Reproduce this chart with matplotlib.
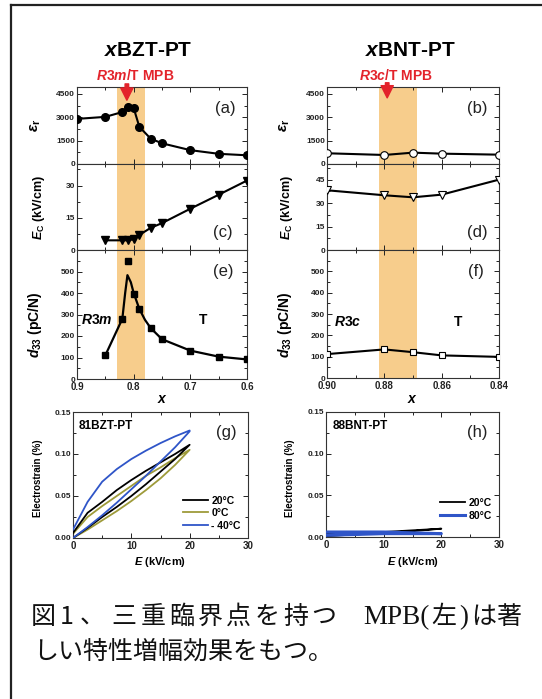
import matplotlib
matplotlib.use('Agg')
import matplotlib.pyplot as plt
from matplotlib.lines import Line2D
from matplotlib.ticker import FixedLocator, FormatStrFormatter

plt.rcParams['font.family'] = ['Liberation Sans', 'DejaVu Sans']
plt.rcParams['font.weight'] = 'bold'
plt.rcParams['mathtext.fontset'] = 'custom'
plt.rcParams['mathtext.rm'] = 'Liberation Sans:bold'
plt.rcParams['mathtext.it'] = 'Liberation Sans:italic:bold'
plt.rcParams['mathtext.bf'] = 'Liberation Sans:bold'
plt.rcParams['axes.linewidth'] = 0.8
plt.rcParams['axes.edgecolor'] = '#333333'

# ---------------- data ----------------
bzt_x = [0.90, 0.85, 0.82, 0.81, 0.80, 0.79, 0.77, 0.75, 0.70, 0.65, 0.60]
bzt_er = [2900, 3030, 3340, 3640, 3600, 2390, 1630, 1330, 890, 655, 560]
bzt_ec_x = [0.85, 0.82, 0.81, 0.80, 0.79, 0.77, 0.75, 0.70, 0.65, 0.60]
bzt_ec = [4.5, 4.5, 4.5, 5.0, 7.0, 10.3, 12.5, 19.2, 25.7, 32.3]
bzt_d33_x = [0.85, 0.82, 0.81, 0.80, 0.79, 0.77, 0.75, 0.70, 0.65, 0.60]
bzt_d33 = [110, 279, 547, 397, 326, 237, 185, 132, 104, 91]
bzt_fit_x = [0.85, 0.82, 0.815, 0.811, 0.805, 0.80, 0.79, 0.78, 0.77, 0.75, 0.70, 0.65, 0.60]
bzt_fit = [110, 280, 400, 483, 450, 400, 326, 275, 237, 185, 132, 104, 91]

bnt_x = [0.90, 0.88, 0.87, 0.86, 0.84]
bnt_er = [690, 580, 730, 665, 600]
bnt_ec = [38.2, 35.0, 33.7, 35.4, 45.0]
bnt_d33 = [112, 134, 121, 106, 99]

bzt_mpb = (0.83, 0.78)
bnt_mpb = (0.882, 0.8685)

g_E = [0, 2.5, 5, 7.5, 10, 12.5, 15, 17.5, 20]
g_20_up = [0.000, 0.012, 0.025, 0.037, 0.050, 0.064, 0.079, 0.094, 0.111]
g_20_down = [0.006, 0.030, 0.043, 0.057, 0.069, 0.080, 0.090, 0.100, 0.111]
g_0_up = [0.000, 0.010, 0.021, 0.032, 0.044, 0.057, 0.071, 0.087, 0.105]
g_0_down = [0.005, 0.025, 0.038, 0.050, 0.062, 0.074, 0.084, 0.095, 0.105]
g_m40_up = [0.000, 0.013, 0.027, 0.042, 0.058, 0.074, 0.091, 0.108, 0.127]
g_m40_down = [0.010, 0.043, 0.067, 0.082, 0.094, 0.104, 0.113, 0.121, 0.128]

h_E = [0, 5, 10, 15, 20]
h_20_up = [0.001, 0.003, 0.005, 0.007, 0.010]
h_20_down = [0.004, 0.005, 0.006, 0.008, 0.010]
h_80_up = [0.002, 0.003, 0.004, 0.004, 0.004]
h_80_down = [0.006, 0.006, 0.006, 0.005, 0.004]

RED = '#E3232B'
BAND = '#F7CD8C'
OLIVE = '#9E9B3A'
BLUE = '#2F55C8'

W, H = 542, 699
fig = plt.figure(figsize=(W / 100, H / 100), dpi=100)


def fx(x):
    return x / W


def fy(y):
    return 1 - y / H


def add_ax(x0, y0, x1, y1):
    return fig.add_axes([fx(x0), fy(y1), (x1 - x0) / W, (y1 - y0) / H])


def style(ax, xmaj, xmin, ymaj, ymin, xfmt, yfmt, xlabels):
    ax.tick_params(which='both', direction='in', top=True, right=True,
                   width=0.7, colors='#222222')
    ax.tick_params(which='major', length=3.5)
    ax.tick_params(which='minor', length=2)
    ax.tick_params(axis='x', labelsize=7, pad=2.5, labelbottom=xlabels)
    ax.tick_params(axis='y', labelsize=6, pad=1.5)
    ax.xaxis.set_major_locator(FixedLocator(xmaj))
    ax.xaxis.set_minor_locator(FixedLocator(xmin))
    ax.yaxis.set_major_locator(FixedLocator(ymaj))
    ax.yaxis.set_minor_locator(FixedLocator(ymin))
    ax.xaxis.set_major_formatter(FormatStrFormatter(xfmt))
    ax.yaxis.set_major_formatter(FormatStrFormatter(yfmt))


# ---------------- composition panels ----------------
axa = add_ax(77, 87, 247, 164)
axc = add_ax(77, 164, 247, 250)
axe = add_ax(77, 250, 247, 379)
axb = add_ax(327, 87, 499, 164)
axd = add_ax(327, 164, 499, 250)
axf = add_ax(327, 250, 499, 378)

lmaj, lmin = [0.9, 0.8, 0.7, 0.6], [0.85, 0.75, 0.65]
rmaj, rmin = [0.90, 0.88, 0.86, 0.84], [0.89, 0.87, 0.85]

for ax in (axa, axc, axe):
    ax.set_xlim(0.9, 0.6)
    ax.axvspan(*bzt_mpb, color=BAND, lw=0, zorder=0)
for ax in (axb, axd, axf):
    ax.set_xlim(0.90, 0.84)
    ax.axvspan(*bnt_mpb, color=BAND, lw=0, zorder=0)

mk = dict(color='black', lw=1.5, zorder=3)
axa.plot(bzt_x, bzt_er, marker='o', ms=5.5, **mk)
axa.set_ylim(0, 4950)
style(axa, lmaj, lmin, [0, 1500, 3000, 4500], [750, 2250, 3750], '%.1f', '%d', False)

axc.plot(bzt_ec_x, bzt_ec, marker='v', ms=5.5, **mk)
axc.set_ylim(0, 40)
style(axc, lmaj, lmin, [0, 15, 30], [7.5, 22.5, 37.5], '%.1f', '%d', False)

axe.plot(bzt_fit_x, bzt_fit, color='black', lw=1.6, zorder=3)
axe.plot(bzt_d33_x, bzt_d33, ls='none', marker='s', ms=4.8, color='black', zorder=4)
axe.set_ylim(0, 600)
style(axe, lmaj, lmin, [0, 100, 200, 300, 400, 500], [50, 150, 250, 350, 450, 550], '%.1f', '%d', True)

om = dict(color='black', lw=1.5, mfc='white', mec='black', mew=0.8, zorder=3)
axb.plot(bnt_x, bnt_er, marker='o', ms=5.5, **om)
axb.set_ylim(0, 4950)
style(axb, rmaj, rmin, [0, 1500, 3000, 4500], [750, 2250, 3750], '%.2f', '%d', False)

axd.plot(bnt_x, bnt_ec, marker='v', ms=6, **om)
axd.set_ylim(0, 55)
style(axd, rmaj, rmin, [0, 15, 30, 45], [7.5, 22.5, 37.5, 52.5], '%.2f', '%d', False)

axf.plot(bnt_x, bnt_d33, marker='s', ms=5, **om)
axf.set_ylim(0, 600)
style(axf, rmaj, rmin, [0, 100, 200, 300, 400, 500], [50, 150, 250, 350, 450, 550], '%.2f', '%d', True)

# arrows
arrow = dict(arrowstyle='simple,head_length=0.55,head_width=0.55,tail_width=0.16',
             color=RED, shrinkA=0, shrinkB=0, mutation_scale=16)
axa.annotate('', xy=(0.812, 4100), xytext=(0.812, 1.04),
             textcoords=('data', 'axes fraction'), arrowprops=arrow, annotation_clip=False)
axb.annotate('', xy=(0.879, 4250), xytext=(0.879, 1.055),
             textcoords=('data', 'axes fraction'), arrowprops=arrow, annotation_clip=False)

# titles & annotations
fig.text(fx(148), fy(50), r'$x$BZT-PT', fontsize=15, ha='center', va='center')
fig.text(fx(410), fy(50), r'$x$BNT-PT', fontsize=15, ha='center', va='center')
fig.text(fx(135), fy(75), r'$\mathit{R3m}$/T MPB', fontsize=10, color=RED, ha='center', va='center')
fig.text(fx(396), fy(76), r'$\mathit{R3c}$/T MPB', fontsize=10, color=RED, ha='center', va='center')

for lab, x, y in [('(a)', 225, 108), ('(c)', 223, 233), ('(e)', 223, 272),
                  ('(b)', 477, 108), ('(d)', 477, 233), ('(f)', 476, 272),
                  ('(g)', 226, 432), ('(h)', 477, 432)]:
    fig.text(fx(x), fy(y), lab, fontsize=12, fontweight='normal', ha='center', va='center', color='#222222')

fig.text(fx(97), fy(320), r'$\mathit{R3m}$', fontsize=10, ha='center', va='center')
fig.text(fx(203), fy(320), 'T', fontsize=10, ha='center', va='center')
fig.text(fx(348), fy(322), r'$\mathit{R3c}$', fontsize=10, ha='center', va='center')
fig.text(fx(458), fy(322), 'T', fontsize=10, ha='center', va='center')

# y labels
for x, y, s, fs in [(36, 125, r'$\varepsilon_{\mathbf{r}}$', 11),
                    (39, 207, r'$E_{\mathbf{C}}$ (kV/cm)', 9),
                    (35, 325, r'$d_{\mathbf{33}}$ (pC/N)', 10),
                    (285, 125, r'$\varepsilon_{\mathbf{r}}$', 11),
                    (287, 207, r'$E_{\mathbf{C}}$ (kV/cm)', 9),
                    (285, 325, r'$d_{\mathbf{33}}$ (pC/N)', 10)]:
    fig.text(fx(x), fy(y), s, fontsize=fs, rotation=90, ha='center', va='center')

fig.text(fx(162), fy(399), r'$x$', fontsize=10, ha='center', va='center')
fig.text(fx(412), fy(399), r'$x$', fontsize=10, ha='center', va='center')

# ---------------- strain panels ----------------
axg = add_ax(73, 412, 248, 538)
axh = add_ax(326, 412, 499, 537)

lg0, = axg.plot(g_E + g_E[::-1], g_0_up + g_0_down[::-1], color=OLIVE, lw=1.3, zorder=2)
lg20, = axg.plot(g_E + g_E[::-1], g_20_up + g_20_down[::-1], color='black', lw=1.3, zorder=3)
lgm40, = axg.plot(g_E + g_E[::-1], g_m40_up + g_m40_down[::-1], color=BLUE, lw=1.3, zorder=4)
axg.legend([lg20, lg0, lgm40], ['20\u00b0C', '0\u00b0C', '- 40\u00b0C'], loc='lower right',
           bbox_to_anchor=(1.0, 0.0), frameon=False, fontsize=7.5, handlelength=2.4,
           handletextpad=0.3, labelspacing=0.25, borderaxespad=0.3)

lh20, = axh.plot(h_E + h_E[::-1], h_20_up + h_20_down[::-1], color='black', lw=1.3, zorder=2)
lh80, = axh.plot(h_E + h_E[::-1], h_80_up + h_80_down[::-1], color=BLUE, lw=2.2, zorder=3)
axh.legend([lh20, lh80], ['20\u00b0C', '80\u00b0C'], loc='lower right',
           bbox_to_anchor=(1.0, 0.07), frameon=False, fontsize=7.5, handlelength=2.4,
           handletextpad=0.3, labelspacing=0.3, borderaxespad=0.3)

for ax in (axg, axh):
    ax.set_xlim(0, 30)
    ax.set_ylim(0, 0.15)
    style(ax, [0, 10, 20, 30], [5, 15, 25], [0, 0.05, 0.10, 0.15], [0.025, 0.075, 0.125],
          '%d', '%.2f', True)
    ax.tick_params(axis='y', labelsize=6)

axg.text(0.03, 0.89, '81BZT-PT', transform=axg.transAxes, fontsize=8.5, va='center', ha='left')
axh.text(0.04, 0.89, '88BNT-PT', transform=axh.transAxes, fontsize=8.5, va='center', ha='left')

for x in (38, 290):
    fig.text(fx(x), fy(478), 'Electrostrain (%)', fontsize=7, rotation=90, ha='center', va='center')
fig.text(fx(160), fy(562), r'$E$ (kV/cm)', fontsize=8, ha='center', va='center')
fig.text(fx(413), fy(562), r'$E$ (kV/cm)', fontsize=8, ha='center', va='center')

# ---------------- frame ----------------
fig.add_artist(Line2D([fx(11), fx(11)], [fy(5), fy(699)], color='#222222', lw=1.6))
fig.add_artist(Line2D([fx(11), fx(542)], [fy(5), fy(5)], color='#222222', lw=1.6))

# ---------------- caption (first line justified, second line natural) ----------------
CJK = ['Noto Sans CJK JP', 'DejaVu Sans']
SERIF = ['Liberation Serif', 'DejaVu Serif']
CAP = 18
line1 = [('図', 43, CJK), ('1', 67, CJK), ('、', 92.5, CJK), ('三', 124, CJK),
         ('重', 153, CJK), ('臨', 181.5, CJK), ('界', 210, CJK), ('点', 238.5, CJK),
         ('を', 267, CJK), ('持', 296, CJK), ('つ', 324, CJK), ('MPB(', 396, SERIF),
         ('左', 444, CJK), (')', 463.5, SERIF), ('は', 484, CJK), ('著', 509, CJK)]
for s, cx, fam in line1:
    fig.text(fx(cx), fy(624), s, fontsize=CAP if fam is CJK else 19.5, family=fam,
             fontweight='normal', ha='center', va='baseline', color='#111111')
fig.text(fx(33), fy(659), 'しい特性増幅効果をもつ。', fontsize=CAP, family=CJK,
         fontweight='normal', ha='left', va='baseline', color='#111111')

fig.savefig('out.png', dpi=100)
